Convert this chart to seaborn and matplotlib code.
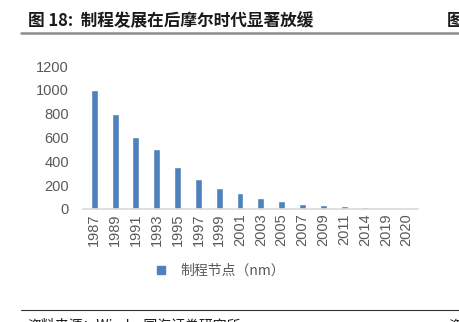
import matplotlib
matplotlib.use("Agg")
import matplotlib.pyplot as plt
import seaborn as sns
import pandas as pd
from matplotlib.lines import Line2D

years = ["1987", "1989", "1991", "1993", "1995", "1997", "1999", "2001",
         "2003", "2005", "2007", "2009", "2011", "2014", "2019", "2020"]
node_nm = [1000, 800, 600, 500, 350, 250, 180, 130, 90, 65, 45, 32, 22, 14, 7, 5]
yticks = [0, 200, 400, 600, 800, 1000, 1200]
series_name = "制程节点（nm）"

sns.set_theme(style="white")
plt.rcParams['font.family'] = ['Liberation Sans', 'Noto Sans CJK SC', 'DejaVu Sans']

df = pd.DataFrame({"year": years, "value": node_nm})

fig = plt.figure(figsize=(4.6, 3.22), dpi=100)
ax = fig.add_axes([0.180, 0.351, 0.729, 0.444])
sns.barplot(data=df, x="year", y="value", color="#4F81BD", saturation=1,
            width=0.33, ax=ax)
ax.set_ylim(0, 1200)
ax.set_yticks(yticks)
ax.set_yticklabels([str(t) for t in yticks], fontsize=10.5, color="#595959")
ax.set_xlim(-0.55, len(years) - 0.45)
ax.tick_params(axis="x", rotation=90, labelsize=10.5, labelcolor="#595959", length=0, pad=3)
ax.tick_params(axis="y", length=0, pad=10)
ax.set_xlabel("")
ax.set_ylabel("")
for s in ["top", "right", "left"]:
    ax.spines[s].set_visible(False)
ax.spines["bottom"].set_color("#D9D9D9")
ax.spines["bottom"].set_linewidth(1.2)

handle = Line2D([], [], marker="s", linestyle="", color="#4F81BD", markersize=6)
fig.legend([handle], [series_name], loc="center", bbox_to_anchor=(0.47, 0.158),
           frameon=False, handletextpad=0.4,
           prop={'family': ['Noto Sans CJK SC'], 'size': 10})
for t in fig.legends[0].get_texts():
    t.set_color("#595959")

fig.text(0.06, 0.935, "图 18:  制程发展在后摩尔时代显著放缓", fontsize=12, fontweight="bold",
         family=['Noto Sans CJK SC', 'DejaVu Sans'], color="#1a1a1a", va="center")
fig.text(0.972, 0.935, "图", fontsize=12, fontweight="bold",
         family=['Noto Sans CJK SC'], color="#1a1a1a", va="center")
fig.add_artist(Line2D([0.045, 1.0], [0.897, 0.897], color="#8c8c8c", linewidth=1.8,
                      transform=fig.transFigure))
fig.add_artist(Line2D([0.045, 1.0], [0.037, 0.037], color="#333333", linewidth=0.8,
                      transform=fig.transFigure))
fig.text(0.06, -0.01, "资料来源：Wind，国海证券研究所", fontsize=10,
         family=['Noto Sans CJK SC'], color="#1a1a1a", va="center")
fig.text(0.975, -0.01, "资", fontsize=10,
         family=['Noto Sans CJK SC'], color="#1a1a1a", va="center")

fig.savefig("out.png", dpi=100)
